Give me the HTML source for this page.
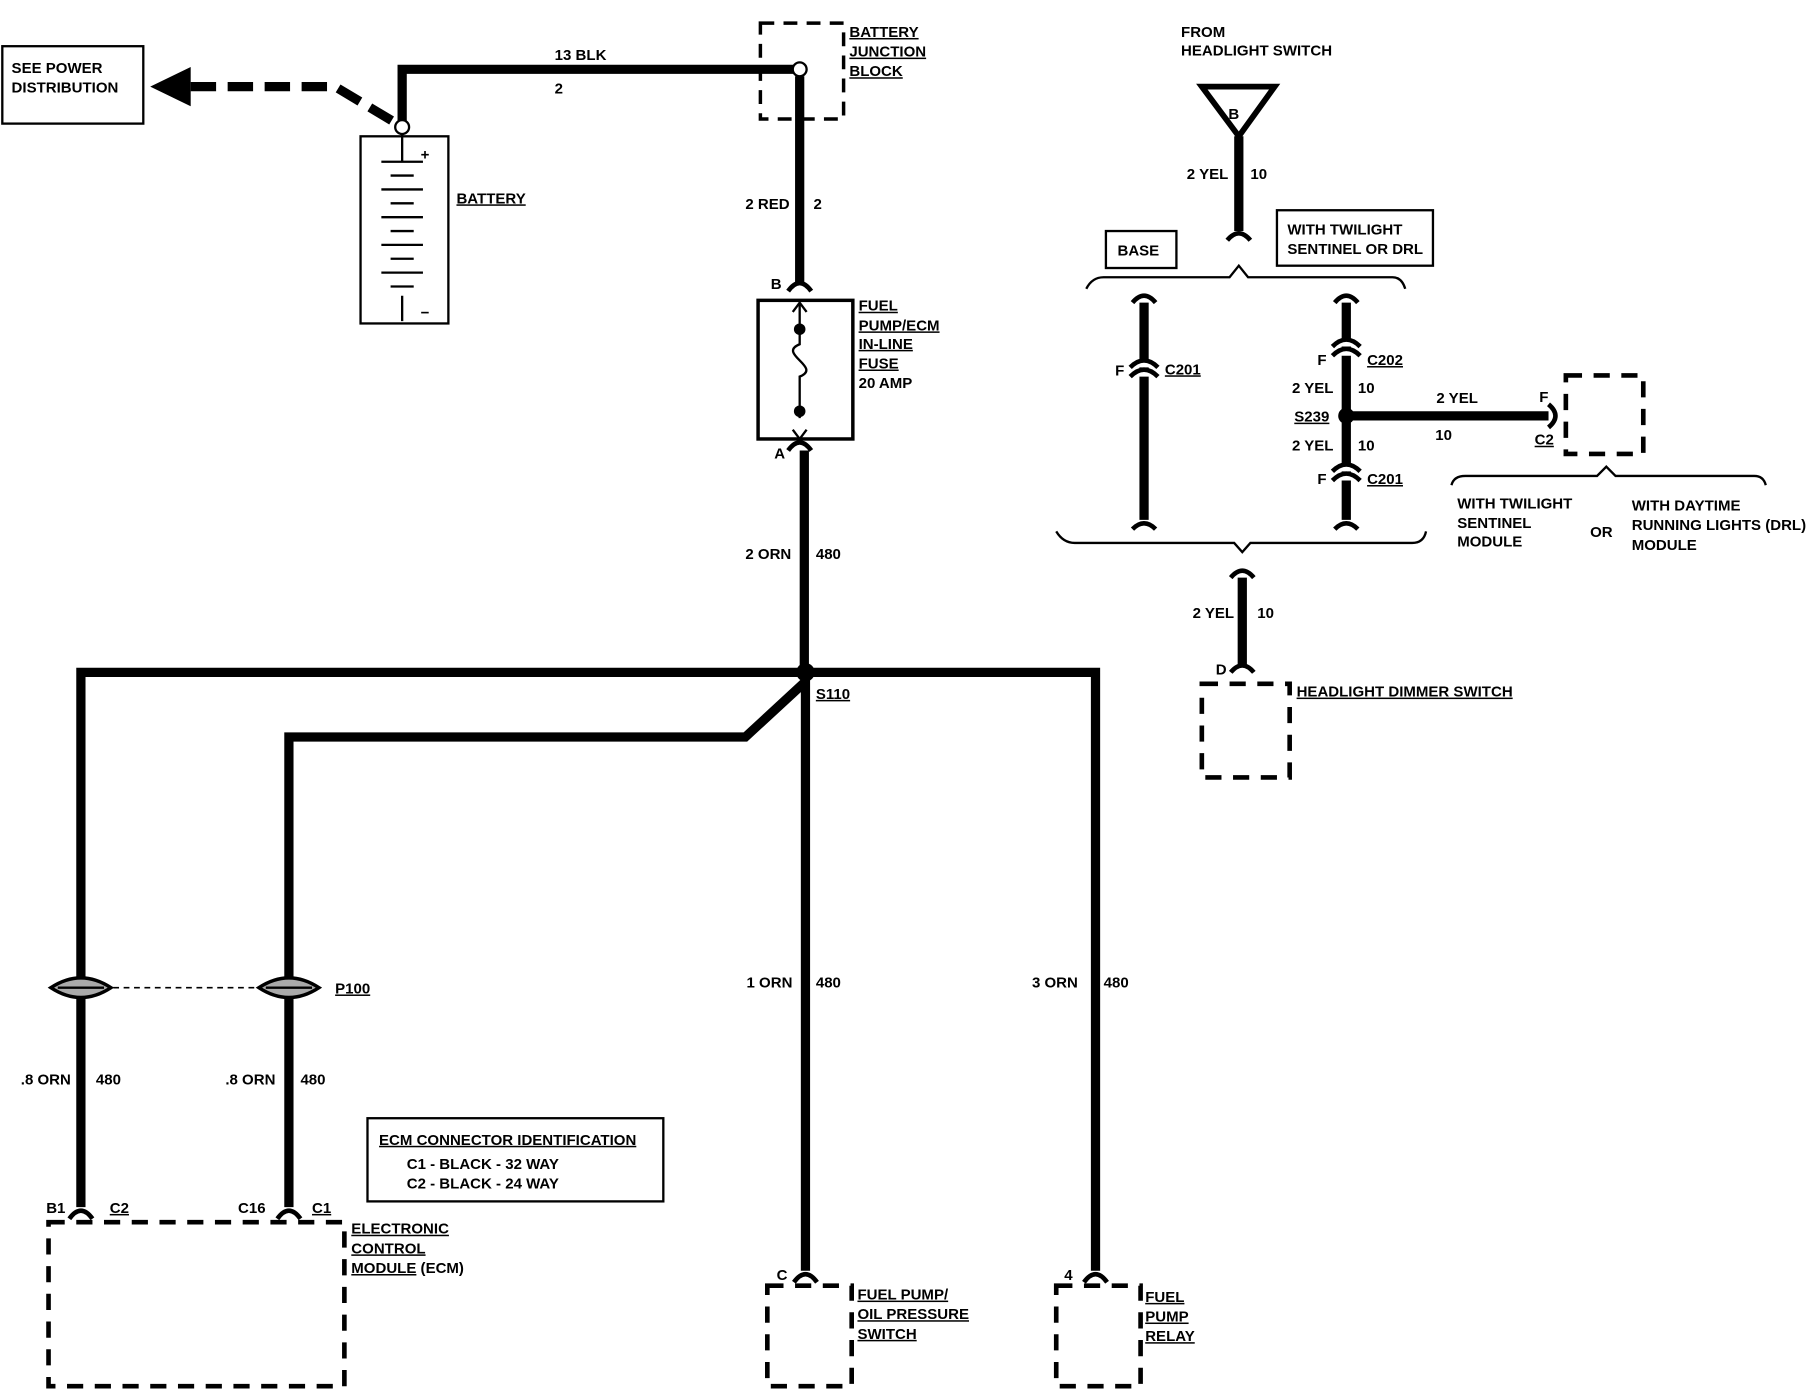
<!DOCTYPE html>
<html><head><meta charset="utf-8"><style>
html,body{margin:0;padding:0;background:#fff}
svg{display:block}
text{font-family:"Liberation Sans",sans-serif;font-weight:bold;font-size:13px;fill:#000}
</style></head><body>
<svg width="1812" height="1392" viewBox="0 0 1568 1205" preserveAspectRatio="none" xmlns="http://www.w3.org/2000/svg">
<g stroke="#000" fill="none">
<rect x="2" y="40" width="122" height="67" stroke-width="2"/>
<path d="M165 75 H290 L345 108" stroke-width="8" stroke-dasharray="22,10"/>
<path d="M130 75 L165 58 L165 92 Z" fill="#000" stroke="none"/>
<path d="M348 108 V60 H688" stroke-width="8"/>
<circle cx="348" cy="110" r="6" fill="#fff" stroke-width="2"/>
<rect x="312" y="118" width="76" height="162" stroke-width="2"/>
<path d="M348 116 V140 M330 140 H366 M338 152 H358 M330 164 H366 M338 176 H358 M330 188 H366 M338 200 H358 M330 212 H366 M338 224 H358 M330 236 H366 M338 248 H358 M348 256 V278" stroke-width="2"/>
<rect x="658" y="20" width="72" height="83" stroke-width="3" stroke-dasharray="12,8"/>
<path d="M692 66 V245" stroke-width="8"/>
<circle cx="692" cy="60" r="6" fill="#fff" stroke-width="2"/>
<path d="M682 252 Q692 238 702 252" stroke-width="4"/>
<rect x="656" y="260" width="82" height="120" stroke-width="3"/>
<path d="M692 262 V298 C672 306 712 318 692 326 V362" stroke-width="2"/>
<path d="M686 270 L692 262 L698 270 M686 372 L692 380 L698 372" stroke-width="2"/>
<path d="M682 390 Q692 376 702 390" stroke-width="4"/>
<path d="M696 390 V580" stroke-width="8"/>
<path d="M70 1045 V582 H948 V1100" stroke-width="8"/>
<path d="M697 582 V1100" stroke-width="8"/>
<path d="M697 590 L645 638 H250 V1045" stroke-width="8"/>
<path d="M80 855 H236" stroke-width="1.5" stroke-dasharray="5,4"/>
<path d="M44 855 Q70 838 96 855 Q70 872 44 855 Z M224 855 Q250 838 276 855 Q250 872 224 855 Z" fill="#aaa" stroke-width="3"/>
<path d="M50 855 H90 M230 855 H270" stroke-width="2"/>
<rect x="318" y="968" width="256" height="72" stroke-width="2"/>
<path d="M60 1055 Q70 1041 80 1055 M240 1055 Q250 1041 260 1055 M687 1110 Q697 1096 707 1110 M938 1110 Q948 1096 958 1110" stroke-width="4"/>
<rect x="42" y="1058" width="256" height="142" stroke-width="4" stroke-dasharray="14,10"/>
<rect x="664" y="1113" width="73" height="87" stroke-width="4" stroke-dasharray="14,10"/>
<rect x="914" y="1113" width="73" height="87" stroke-width="4" stroke-dasharray="14,10"/>
<path d="M1040 75 H1103 L1072 118 Z" stroke-width="5"/>
<path d="M1072 118 V200" stroke-width="8"/>
<path d="M1062 208 Q1072 196 1082 208" stroke-width="4"/>
<path d="M940 250 Q945 240 955 240 H1064 L1072 230 L1080 240 H1205 Q1213 240 1216 250" stroke-width="2"/>
<rect x="957" y="200" width="61" height="32" stroke-width="2"/>
<rect x="1105" y="182" width="135" height="48" stroke-width="2"/>
<path d="M990 262 V450 M1165 262 V450" stroke-width="8"/>
<path d="M980 262 Q990 250 1000 262 M1155 262 Q1165 250 1175 262 M980 458 Q990 448 1000 458 M1155 458 Q1165 448 1175 458" stroke-width="4"/>
<path d="M978 318 Q990 306 1002 318 M978 326 Q990 314 1002 326" stroke-width="4" fill="#fff"/>
<path d="M1153 300 Q1165 288 1177 300 M1153 308 Q1165 296 1177 308" stroke-width="4" fill="#fff"/>
<path d="M1153 408 Q1165 396 1177 408 M1153 416 Q1165 404 1177 416" stroke-width="4" fill="#fff"/>
<path d="M1165 360 H1340" stroke-width="8"/>
<path d="M1340 350 Q1352 360 1340 370" stroke-width="4"/>
<rect x="1355" y="325" width="67" height="68" stroke-width="4" stroke-dasharray="14,10"/>
<path d="M1256 420 Q1258 412 1268 412 H1382 L1390 404 L1398 412 H1518 Q1526 412 1528 420" stroke-width="2"/>
<path d="M914 460 Q920 470 930 470 H1068 L1075 478 L1082 470 H1222 Q1232 470 1234 460" stroke-width="2"/>
<path d="M1075 500 V575" stroke-width="8"/>
<path d="M1065 500 Q1075 488 1085 500 M1065 582 Q1075 570 1085 582" stroke-width="4"/>
<rect x="1040" y="592" width="76" height="81" stroke-width="4" stroke-dasharray="14,10"/>
</g>
<circle cx="697" cy="582" r="8" fill="#000"/>
<circle cx="692" cy="285" r="5" fill="#000"/>
<circle cx="692" cy="356" r="5" fill="#000"/>
<circle cx="1165" cy="360" r="7" fill="#000"/>
<g>
<text x="10" y="63">SEE POWER</text><text x="10" y="80">DISTRIBUTION</text>
<text x="480" y="52">13 BLK</text><text x="480" y="81">2</text>
<text x="364" y="138" font-size="15">+</text><text x="364" y="275" font-size="15">−</text>
<text x="395" y="176" text-decoration="underline">BATTERY</text>
<text x="735" y="32" text-decoration="underline">BATTERY</text><text x="735" y="49" text-decoration="underline">JUNCTION</text><text x="735" y="66" text-decoration="underline">BLOCK</text>
<text x="645" y="181">2 RED</text><text x="704" y="181">2</text>
<text x="667" y="250">B</text>
<text x="743" y="269" text-decoration="underline">FUEL</text><text x="743" y="286" text-decoration="underline">PUMP/ECM</text><text x="743" y="302" text-decoration="underline">IN-LINE</text><text x="743" y="319" text-decoration="underline">FUSE</text><text x="743" y="336">20 AMP</text>
<text x="670" y="397">A</text>
<text x="645" y="484">2 ORN</text><text x="706" y="484">480</text>
<text x="706" y="605" text-decoration="underline">S110</text>
<text x="290" y="860" text-decoration="underline">P100</text>
<text x="18" y="939">.8 ORN</text><text x="83" y="939">480</text>
<text x="195" y="939">.8 ORN</text><text x="260" y="939">480</text>
<text x="646" y="855">1 ORN</text><text x="706" y="855">480</text>
<text x="893" y="855">3 ORN</text><text x="955" y="855">480</text>
<text x="328" y="991" text-decoration="underline">ECM CONNECTOR IDENTIFICATION</text>
<text x="352" y="1012">C1  -  BLACK    -  32 WAY</text>
<text x="352" y="1029">C2  -  BLACK    -  24 WAY</text>
<text x="40" y="1050">B1</text><text x="95" y="1050" text-decoration="underline">C2</text>
<text x="206" y="1050">C16</text><text x="270" y="1050" text-decoration="underline">C1</text>
<text x="304" y="1068" text-decoration="underline">ELECTRONIC</text><text x="304" y="1085" text-decoration="underline">CONTROL</text><text x="304" y="1102"><tspan text-decoration="underline">MODULE</tspan> (ECM)</text>
<text x="672" y="1108">C</text>
<text x="742" y="1125" text-decoration="underline">FUEL PUMP/</text><text x="742" y="1142" text-decoration="underline">OIL PRESSURE</text><text x="742" y="1159" text-decoration="underline">SWITCH</text>
<text x="921" y="1108">4</text>
<text x="991" y="1127" text-decoration="underline">FUEL</text><text x="991" y="1144" text-decoration="underline">PUMP</text><text x="991" y="1161" text-decoration="underline">RELAY</text>
<text x="1022" y="32">FROM</text><text x="1022" y="48">HEADLIGHT SWITCH</text>
<text x="1063" y="103" font-size="22">B</text>
<text x="1027" y="155">2 YEL</text><text x="1082" y="155">10</text>
<text x="967" y="221">BASE</text>
<text x="1114" y="203">WITH TWILIGHT</text><text x="1114" y="220">SENTINEL OR DRL</text>
<text x="965" y="325">F</text><text x="1008" y="324" text-decoration="underline">C201</text>
<text x="1140" y="316">F</text><text x="1183" y="316" text-decoration="underline">C202</text>
<text x="1118" y="340">2 YEL</text><text x="1175" y="340">10</text>
<text x="1120" y="365" text-decoration="underline">S239</text>
<text x="1118" y="390">2 YEL</text><text x="1175" y="390">10</text>
<text x="1140" y="419">F</text><text x="1183" y="419" text-decoration="underline">C201</text>
<text x="1243" y="349">2 YEL</text><text x="1242" y="381">10</text>
<text x="1332" y="348">F</text><text x="1328" y="385" text-decoration="underline">C2</text>
<text x="1261" y="440">WITH TWILIGHT</text><text x="1261" y="457">SENTINEL</text><text x="1261" y="473">MODULE</text>
<text x="1376" y="465">OR</text>
<text x="1412" y="442">WITH DAYTIME</text><text x="1412" y="459">RUNNING LIGHTS (DRL)</text><text x="1412" y="476">MODULE</text>
<text x="1032" y="535">2 YEL</text><text x="1088" y="535">10</text>
<text x="1052" y="584">D</text>
<text x="1122" y="603" text-decoration="underline">HEADLIGHT DIMMER SWITCH</text>
</g>
</svg>
</body></html>
